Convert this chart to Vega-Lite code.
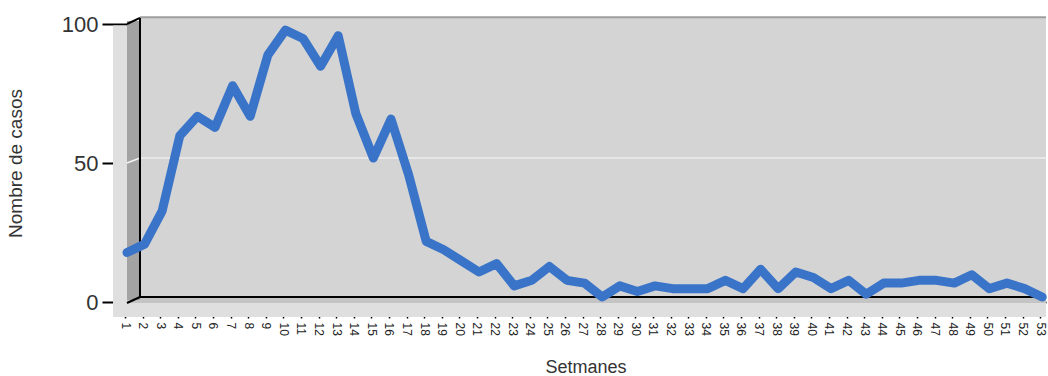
{
  "$schema": "https://vega.github.io/schema/vega-lite/v6.json",
  "width": 921,
  "height": 278,
  "autosize": {"type": "none"},
  "padding": {"left": 125, "top": 24, "right": 2, "bottom": 74},
  "background": "white",
  "config": {"view": {"stroke": null}, "font": "Liberation Sans"},
  "data": {"values": [
    {"setmana": 1, "casos": 16}, {"setmana": 2, "casos": 19}, {"setmana": 3, "casos": 31},
    {"setmana": 4, "casos": 58}, {"setmana": 5, "casos": 65}, {"setmana": 6, "casos": 61},
    {"setmana": 7, "casos": 76}, {"setmana": 8, "casos": 65}, {"setmana": 9, "casos": 87},
    {"setmana": 10, "casos": 96}, {"setmana": 11, "casos": 93}, {"setmana": 12, "casos": 83},
    {"setmana": 13, "casos": 94}, {"setmana": 14, "casos": 66}, {"setmana": 15, "casos": 50},
    {"setmana": 16, "casos": 64}, {"setmana": 17, "casos": 44}, {"setmana": 18, "casos": 20},
    {"setmana": 19, "casos": 17}, {"setmana": 20, "casos": 13}, {"setmana": 21, "casos": 9},
    {"setmana": 22, "casos": 12}, {"setmana": 23, "casos": 4}, {"setmana": 24, "casos": 6},
    {"setmana": 25, "casos": 11}, {"setmana": 26, "casos": 6}, {"setmana": 27, "casos": 5},
    {"setmana": 28, "casos": 0}, {"setmana": 29, "casos": 4}, {"setmana": 30, "casos": 2},
    {"setmana": 31, "casos": 4}, {"setmana": 32, "casos": 3}, {"setmana": 33, "casos": 3},
    {"setmana": 34, "casos": 3}, {"setmana": 35, "casos": 6}, {"setmana": 36, "casos": 3},
    {"setmana": 37, "casos": 10}, {"setmana": 38, "casos": 3}, {"setmana": 39, "casos": 9},
    {"setmana": 40, "casos": 7}, {"setmana": 41, "casos": 3}, {"setmana": 42, "casos": 6},
    {"setmana": 43, "casos": 1}, {"setmana": 44, "casos": 5}, {"setmana": 45, "casos": 5},
    {"setmana": 46, "casos": 6}, {"setmana": 47, "casos": 6}, {"setmana": 48, "casos": 5},
    {"setmana": 49, "casos": 8}, {"setmana": 50, "casos": 3}, {"setmana": 51, "casos": 5},
    {"setmana": 52, "casos": 3}, {"setmana": 53, "casos": 0}
  ]},
  "layer": [
    {
      "data": {"values": [{}]},
      "mark": {"type": "rect", "color": "#dfdfdf"},
      "encoding": {
        "x": {"datum": 0.318, "type": "quantitative"}, "x2": {"datum": 53.33},
        "y": {"datum": 99.5, "type": "quantitative"}, "y2": {"datum": -5.4}
      }
    },
    {
      "data": {"values": [{}]},
      "mark": {"type": "rect", "color": "#d4d4d4"},
      "encoding": {
        "x": {"datum": 1.852, "type": "quantitative"}, "x2": {"datum": 53.33},
        "y": {"datum": 102.2, "type": "quantitative"}, "y2": {"datum": 1.8}
      }
    },
    {
      "data": {"values": [{}]},
      "mark": {"type": "rect", "color": "#c4c4c4"},
      "encoding": {
        "x": {"datum": 1.114, "type": "quantitative"}, "x2": {"datum": 53.33},
        "y": {"datum": 1.8, "type": "quantitative"}, "y2": {"datum": -0.36}
      }
    },
    {
      "data": {"values": [{}]},
      "mark": {"type": "rect", "color": "#a3a3a3"},
      "encoding": {
        "x": {"datum": 1.114, "type": "quantitative"}, "x2": {"datum": 1.852},
        "y": {"datum": 101.1, "type": "quantitative"}, "y2": {"datum": 0.72}
      }
    },
    {
      "data": {"values": [{}]},
      "mark": {"type": "rule", "color": "#f4f4f4", "strokeWidth": 1.5, "opacity": 0.8},
      "encoding": {
        "x": {"datum": 1.852, "type": "quantitative"}, "x2": {"datum": 53.33},
        "y": {"datum": 51.8, "type": "quantitative"}
      }
    },
    {
      "data": {"values": [{}]},
      "mark": {"type": "rule", "color": "#f4f4f4", "strokeWidth": 1.5},
      "encoding": {
        "x": {"datum": 1.114, "type": "quantitative"}, "x2": {"datum": 1.852},
        "y": {"datum": 50, "type": "quantitative"}, "y2": {"datum": 51.8}
      }
    },
    {
      "data": {"values": [{}]},
      "mark": {"type": "rule", "color": "#9e9e9e", "strokeWidth": 2},
      "encoding": {
        "x": {"datum": 1.852, "type": "quantitative"}, "x2": {"datum": 53.33},
        "y": {"datum": 102.4, "type": "quantitative"}
      }
    },
    {
      "data": {"values": [{}]},
      "mark": {"type": "rule", "color": "black", "strokeWidth": 2},
      "encoding": {
        "x": {"datum": 1.852, "type": "quantitative"},
        "y": {"datum": 102.2, "type": "quantitative"}, "y2": {"datum": 1.8}
      }
    },
    {
      "data": {"values": [{}]},
      "mark": {"type": "rule", "color": "black", "strokeWidth": 2},
      "encoding": {
        "x": {"datum": 1.852, "type": "quantitative"}, "x2": {"datum": 53.33},
        "y": {"datum": 1.8, "type": "quantitative"}
      }
    },
    {
      "data": {"values": [{}]},
      "mark": {"type": "rule", "color": "black", "strokeWidth": 2},
      "encoding": {
        "x": {"datum": 1.114, "type": "quantitative"}, "x2": {"datum": 1.852},
        "y": {"datum": 100, "type": "quantitative"}, "y2": {"datum": 102.2}
      }
    },
    {
      "data": {"values": [{}]},
      "mark": {"type": "rule", "color": "black", "strokeWidth": 2},
      "encoding": {
        "x": {"datum": 1.114, "type": "quantitative"}, "x2": {"datum": 1.852},
        "y": {"datum": -0.36, "type": "quantitative"}, "y2": {"datum": 1.8}
      }
    },
    {
      "mark": {"type": "line", "color": "#3a74c8", "strokeWidth": 9, "strokeJoin": "round", "strokeCap": "round", "xOffset": 2, "yOffset": -5},
      "encoding": {
        "x": {
          "field": "setmana", "type": "quantitative",
          "scale": {"domain": [1, 53.33], "nice": false, "zero": false},
          "axis": {
            "title": "Setmanes", "titleFontSize": 18, "titleFontWeight": "normal", "titleColor": "#333333", "titlePadding": 23,
            "values": [1,2,3,4,5,6,7,8,9,10,11,12,13,14,15,16,17,18,19,20,21,22,23,24,25,26,27,28,29,30,31,32,33,34,35,36,37,38,39,40,41,42,43,44,45,46,47,48,49,50,51,52,53],
            "tickCount": 100, "format": "d",
            "labelAngle": 90, "labelAlign": "left", "labelBaseline": "middle", "labelFontSize": 12, "labelColor": "#222222",
            "labelOverlap": false, "labelPadding": 4, "labelFlush": false, "labelBound": false,
            "domainColor": "black", "domainWidth": 2, "tickColor": "black", "tickWidth": 1.5, "tickSize": 16, "grid": false
          }
        },
        "y": {
          "field": "casos", "type": "quantitative",
          "scale": {"domain": [0, 100], "nice": false},
          "axis": {
            "title": "Nombre de casos", "titleFontSize": 19, "titleFontWeight": "normal", "titleColor": "#333333", "titlePadding": 36,
            "values": [0, 50, 100], "offset": -2,
            "labelFontSize": 22, "labelFont": "Liberation Sans Narrow, Liberation Sans", "labelColor": "#333333", "labelPadding": 4,
            "domainColor": "black", "domainWidth": 2, "tickColor": "black", "tickWidth": 2, "tickSize": 25, "grid": false
          }
        }
      }
    }
  ]
}
